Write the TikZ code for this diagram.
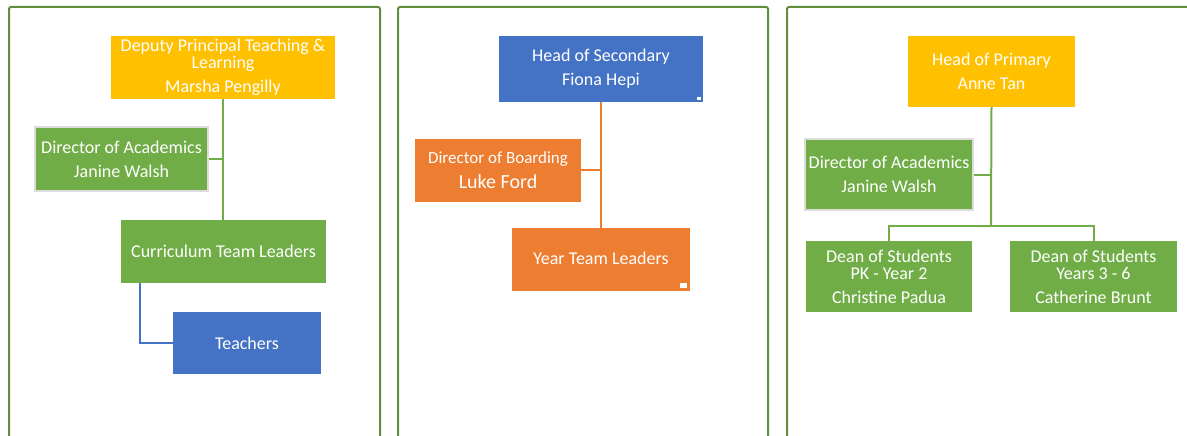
\documentclass[tikz,border=0pt]{standalone}
\usepackage{fontspec}
\setmainfont{Carlito}
\usepackage{tikz}
\usetikzlibrary{calc,positioning}
\definecolor{gold}{HTML}{FFC000}
\definecolor{leaf}{HTML}{70AD47}
\definecolor{sea}{HTML}{4472C4}
\definecolor{rust}{HTML}{ED7D31}
\definecolor{frame}{HTML}{5E8E3E}
\definecolor{pale}{HTML}{DCDCDC}

\tikzset{
  panel/.style={draw=frame, line width=2pt, rounded corners=2pt},
  role/.style={text=white, align=center, inner sep=0pt, font=\fontsize{18}{17}\selectfont},
  link/.style={line width=2pt}
}

\begin{document}
\begin{tikzpicture}[x=1pt,y=-1pt]
    \useasboundingbox (0,0) rectangle (1187,436);

    % panels
    \draw[panel] (9,470) -- (9,7) -- (380,7) -- (380,470);
    \draw[panel] (398,470) -- (398,7) -- (768,7) -- (768,470);
    \draw[panel] (787,470) -- (787,7) -- (1200,7);

    % teaching and learning
    \node[role, fill=gold, minimum width=224, minimum height=63] (dpt) at (223,67.5)
      {Deputy Principal Teaching \&\\Learning\\[7pt]Marsha Pengilly};
    \node[role, fill=leaf, draw=pale, line width=1.5pt, minimum width=173, minimum height=64] (doa1) at (121.5,159)
      {Director of Academics\\[7pt]Janine Walsh};
    \node[role, fill=leaf, minimum width=205, minimum height=63] (ctl) at (223.5,251.5)
      {Curriculum Team Leaders};
    \node[role, fill=sea, minimum width=148, minimum height=62] (tch) at (247,343)
      {Teachers};

    \draw[link, leaf] (dpt.south) -- (dpt.south |- ctl.north);
    \draw[link, leaf] (doa1.east) -- (doa1.east -| dpt.south);
    \draw[link, sea] ([xshift=19]ctl.south west) |- (tch.west);

    % secondary
    \node[role, fill=sea, minimum width=204, minimum height=66] (hos) at (601,69)
      {Head of Secondary\\[7pt]Fiona Hepi};
    \node[role, fill=rust, minimum width=166, minimum height=63] (dob) at (498,170)
      {{\fontsize{17}{17}\selectfont Director of Boarding}\\[8pt]{\fontsize{20}{20}\selectfont Luke Ford}};
    \node[role, fill=rust, minimum width=178, minimum height=63] (ytl) at (601,259.5)
      {\raisebox{3pt}{Year Team Leaders}};
    \fill[white] ([shift={(-6,-5)}]hos.south east) rectangle ++(4,3);
    \fill[white] ([shift={(-10,-3)}]ytl.south east) rectangle ++(7,-5);

    \draw[link, rust] (hos.south) -- (ytl.north);
    \draw[link, rust] (dob.east) -- (dob.east -| hos.south);

    % primary
    \node[role, fill=gold, minimum width=167, minimum height=71] (hop) at (991.5,71.5)
      {Head of Primary\\[7pt]Anne Tan};
    \node[role, fill=leaf, draw=pale, line width=1.5pt, minimum width=168, minimum height=71] (doa3) at (889,174.5)
      {Director of Academics\\[7pt]Janine Walsh};
    \node[role, fill=leaf, minimum width=166, minimum height=71] (dpk) at (889,276.5)
      {Dean of Students\\PK - Year 2\\[7pt]Christine Padua};
    \node[role, fill=leaf, minimum width=167, minimum height=71] (dyr) at (1093.5,276.5)
      {Dean of Students\\Years 3 - 6\\[7pt]Catherine Brunt};
    \coordinate (fork) at (991,226);

    \draw[link, leaf] (hop.south) -- (fork);
    \draw[link, leaf] (doa3.east) -- (doa3.east -| fork);
    \draw[link, leaf] (dpk.north) |- (fork) -| (dyr.north);
\end{tikzpicture}
\end{document}
